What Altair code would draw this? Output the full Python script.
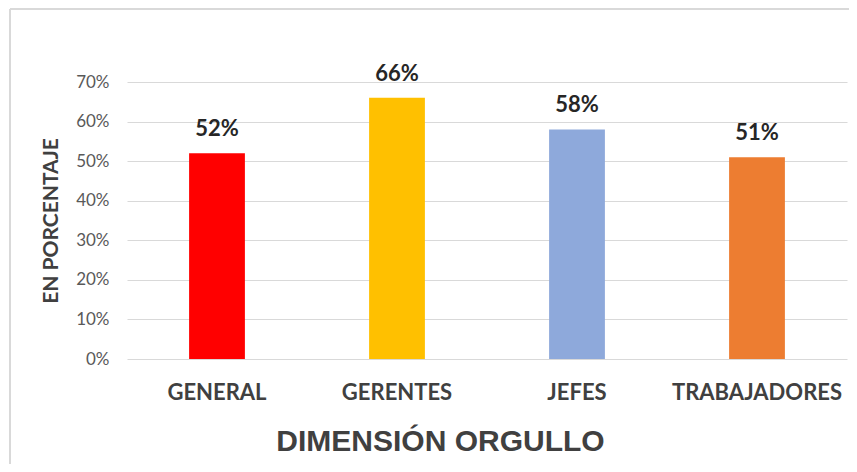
import altair as alt
import pandas as pd

categories = ["GENERAL", "GERENTES", "JEFES", "TRABAJADORES"]
values = [0.52, 0.66, 0.58, 0.51]
colors = ["#FF0000", "#FFC000", "#8EA9DB", "#ED7D31"]
ticks = [0, 0.1, 0.2, 0.3, 0.4, 0.5, 0.6, 0.7]

df = pd.DataFrame({"cat": categories, "val": values, "label": [f"{round(v*100)}%" for v in values]})

x = alt.X("cat:N", sort=categories,
          scale=alt.Scale(paddingInner=0.69, paddingOuter=0.345),
          axis=alt.Axis(title="DIMENSIÓN ORGULLO", labelAngle=0, labelFont="Lato",
                        labelFontSize=22, labelFontWeight="bold", labelColor="#404040",
                        labelPadding=23, ticks=False, domain=False, labelOverlap=False,
                        titleFont="Liberation Sans", titleFontSize=30, titleFontWeight="bold",
                        titleColor="#404040", titlePadding=23,
                        titleX=313, titleAlign="center", titleAnchor="start"))
y = alt.Y("val:Q", scale=alt.Scale(domain=[0, 0.7], nice=False),
          axis=alt.Axis(title="EN PORCENTAJE", format=".0%", values=ticks,
                        labelFont="Lato", labelFontSize=17, labelColor="#595959",
                        labelPadding=18, ticks=False, domain=False, labelOverlap=False,
                        gridColor="#D9D9D9", gridWidth=1.2,
                        titleFont="Lato", titleFontSize=21, titleFontWeight="bold",
                        titleColor="#404040", titlePadding=14))

bars = alt.Chart(df).mark_bar().encode(
    x=x, y=y,
    color=alt.Color("cat:N", sort=categories, scale=alt.Scale(domain=categories, range=colors), legend=None),
)
text = alt.Chart(df).mark_text(dy=-24, font="Lato", fontSize=22, fontWeight="bold", color="#262626").encode(
    x=x, y=y, text="label:N")

border_top = alt.Chart(df).mark_rule(color="#D9D9D9", strokeWidth=1.5, clip=False).encode(
    x=alt.value(-117), x2=alt.value(740), y=alt.value(-73))
border_left = alt.Chart(df).mark_rule(color="#D9D9D9", strokeWidth=1.5, clip=False).encode(
    x=alt.value(-117), y=alt.value(-73), y2=alt.value(400))

chart = alt.layer(bars, text, border_top, border_left).properties(
    width=720, height=277,
    background="#FFFFFF",
    autosize=alt.AutoSizeParams(type="none"),
    padding={"left": 119, "top": 74, "right": 2, "bottom": 105},
).configure_view(stroke=None)

chart.save("out.html", embed_options={"renderer": "svg", "actions": False})
